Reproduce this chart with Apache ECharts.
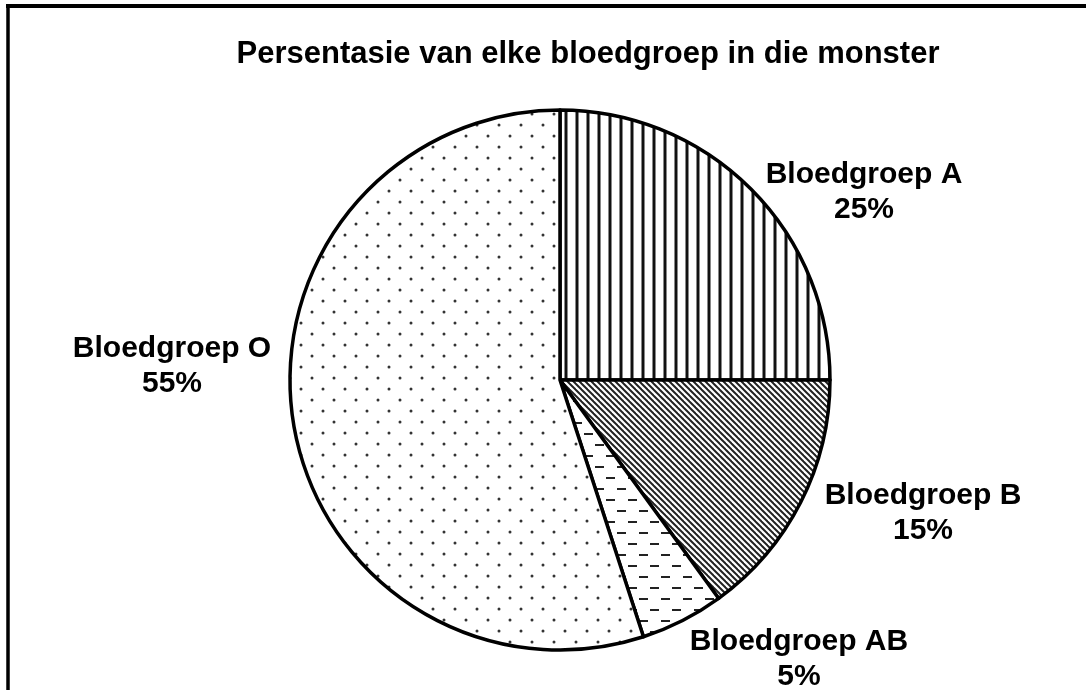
<!DOCTYPE html>
<html>
<head>
<meta charset="utf-8">
<script src="https://cdn.jsdelivr.net/npm/echarts@6/dist/echarts.min.js"></script>
<style>
  html, body { margin: 0; padding: 0; background: #fff; }
  #chart { width: 1086px; height: 690px; }
</style>
</head>
<body>
<div id="chart"></div>
<script>
// data
const groups = ['Bloedgroep A', 'Bloedgroep B', 'Bloedgroep AB', 'Bloedgroep O'];
const percents = [25, 15, 5, 55];
const titleText = 'Persentasie van elke bloedgroep in die monster';

// hatch fills, drawn onto small tiles
function tile(w, h, draw) {
  const c = document.createElement('canvas');
  c.width = w;
  c.height = h;
  const g = c.getContext('2d');
  g.fillStyle = '#fff';
  g.fillRect(0, 0, w, h);
  draw(g);
  return c;
}

const vertical = tile(11, 11, (g) => {
  g.fillStyle = '#888';
  g.fillRect(3, 0, 1, 11);
  g.fillRect(6, 0, 1, 11);
  g.fillStyle = '#111';
  g.fillRect(4, 0, 2, 11);
});

const diagonal = tile(6, 6, (g) => {
  g.strokeStyle = '#222';
  g.lineWidth = 2;
  for (const o of [-6, 0, 6]) {
    g.beginPath();
    g.moveTo(o - 1, -1);
    g.lineTo(o + 7, 7);
    g.stroke();
  }
});

const dashes = tile(22, 22, (g) => {
  g.fillStyle = '#222';
  g.fillRect(1, 4, 9, 2);
  g.fillRect(12, 15, 9, 2);
});

const dots = tile(22, 22, (g) => {
  g.fillStyle = '#333';
  g.beginPath();
  g.arc(4, 4, 1.5, 0, Math.PI * 2);
  g.arc(15, 15, 1.5, 0, Math.PI * 2);
  g.fill();
});

const fills = [vertical, diagonal, dashes, dots];
// label anchor per slice (layout only)
const labelPos = [[864, 192], [923, 513], [799, 659], [172, 366]];
const FONT = 'Liberation Sans, Arial, sans-serif';

const chart = echarts.init(document.getElementById('chart'));
chart.setOption({
  animation: false,
  textStyle: { fontFamily: FONT },
  title: {
    text: titleText,
    left: 583,
    top: 34,
    textAlign: 'center',
    textStyle: { fontSize: 31, fontWeight: 'bold', color: '#000', fontFamily: FONT },
  },
  graphic: [
    { type: 'line', shape: { x1: 6, y1: 6, x2: 1086, y2: 6 }, style: { stroke: '#000', lineWidth: 4 } },
    { type: 'line', shape: { x1: 8, y1: 4, x2: 8, y2: 690 }, style: { stroke: '#000', lineWidth: 3.5 } },
  ],
  series: [{
    type: 'pie',
    center: [560, 380],
    radius: [0, 270],
    startAngle: 90,
    clockwise: true,
    silent: true,
    data: groups.map((name, i) => ({
      name,
      value: percents[i],
      itemStyle: { color: { image: fills[i], repeat: 'repeat' } },
    })),
    itemStyle: { borderColor: '#000', borderWidth: 3.5 },
    label: {
      show: true,
      position: 'outside',
      formatter: (p) => p.name + '\n' + p.value + '%',
      fontSize: 30,
      fontWeight: 'bold',
      color: '#000',
      lineHeight: 35,
      align: 'center',
      fontFamily: FONT,
    },
    labelLine: { show: false },
    labelLayout: (p) => ({
      x: labelPos[p.dataIndex][0],
      y: labelPos[p.dataIndex][1],
      align: 'center',
      verticalAlign: 'middle',
    }),
  }],
});
</script>
</body>
</html>
